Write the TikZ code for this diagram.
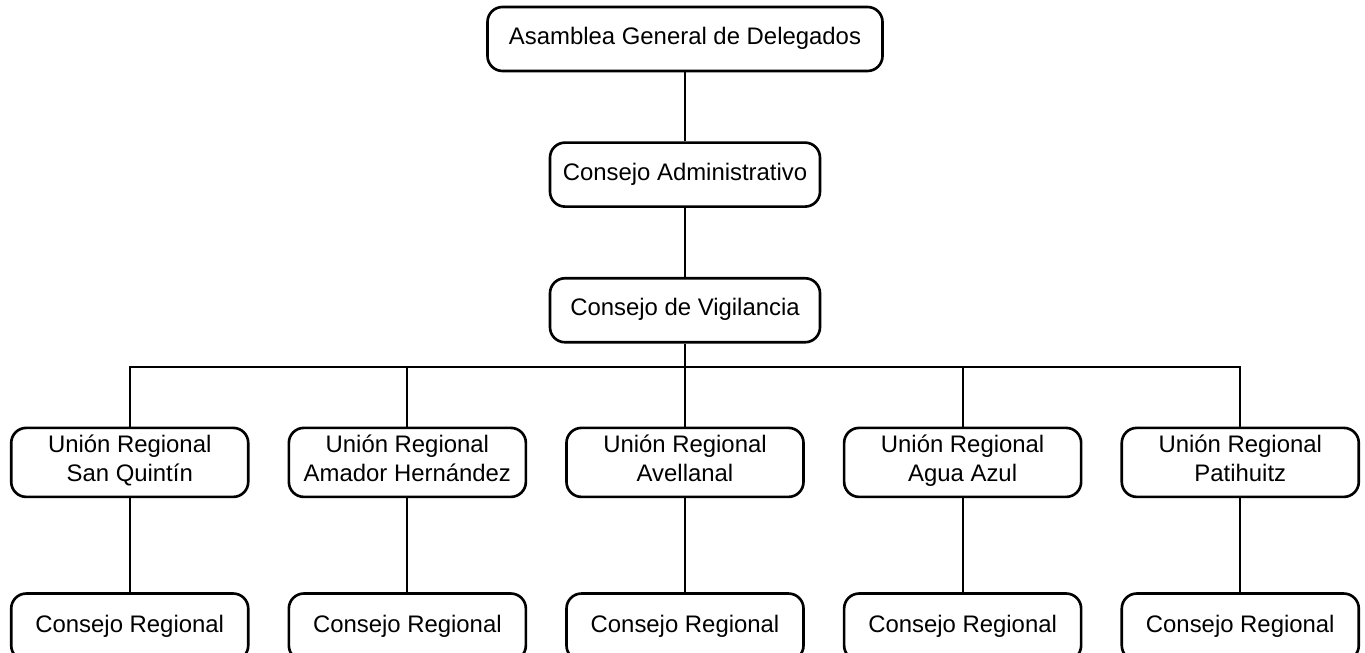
\documentclass[tikz,border=0pt]{standalone}
\usepackage{fontspec}
\setmainfont{Liberation Sans}
\usetikzlibrary{positioning,chains}
\tikzset{
  organo/.style={
    rectangle,
    rounded corners=0.3cm,
    draw=black, line width=1.5pt,
    minimum height=1.28cm,
    align=center,
    execute at begin node=\strut,
    execute at end node=\strut,
    font=\fontsize{13.6}{16}\selectfont},
  central/.style={organo, minimum width=5.4cm, on chain},
  regional/.style={organo, minimum width=4.74cm, minimum height=1.38cm},
  line/.style={draw, line width=1.1pt},
  every join/.style={line},
}
\begin{document}
\begin{tikzpicture}[node distance=1.38cm, start chain=going below]
  \useasboundingbox (0,0) rectangle (27.3,13.06);
  \node[central, minimum width=7.9cm] (asamblea) at (13.7,12.28) {Asamblea General de Delegados};
  \node[central, join] (administrativo) {Consejo Administrativo};
  \node[central, join] (vigilancia) {Consejo de Vigilancia};

  % uniones regionales
  \node[regional, below=1.66cm of vigilancia] (ur-avellanal) {Unión Regional\\Avellanal};
  \node[regional, left=0.76cm of ur-avellanal] (ur-amador) {Unión Regional\\Amador Hernández};
  \node[regional, left=0.76cm of ur-amador] (ur-sanquintin) {Unión Regional\\San Quintín};
  \node[regional, right=0.76cm of ur-avellanal] (ur-aguaazul) {Unión Regional\\Agua Azul};
  \node[regional, right=0.76cm of ur-aguaazul] (ur-patihuitz) {Unión Regional\\Patihuitz};

  \coordinate (bus) at (13.7,5.72);
  \draw[line] (vigilancia) -- (ur-avellanal);
  \draw[line] (ur-sanquintin.north) |- (bus) -| (ur-patihuitz.north);
  \draw[line] (ur-amador.north) -- (ur-amador |- bus);
  \draw[line] (ur-aguaazul.north) -- (ur-aguaazul |- bus);

  % consejos regionales
  \foreach \ur in {sanquintin,amador,avellanal,aguaazul,patihuitz}{
    \node[regional, minimum height=1.34cm, below=1.88cm of ur-\ur] (cr-\ur) {Consejo Regional};
    \draw[line] (ur-\ur) -- (cr-\ur);
  }
\end{tikzpicture}
\end{document}
